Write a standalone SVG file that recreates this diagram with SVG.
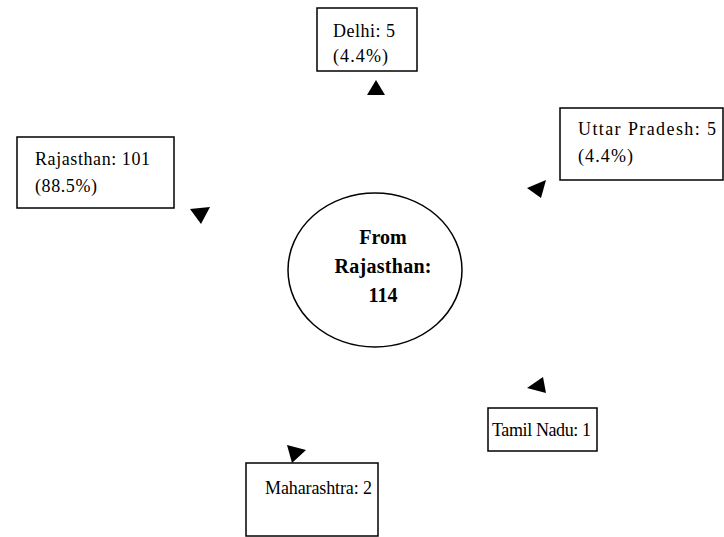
<svg xmlns="http://www.w3.org/2000/svg" width="724" height="537" viewBox="0 0 724 537">
<style>
.box{fill:#fff;stroke:#000;stroke-width:1.5}
.t{font-family:"Liberation Serif","Times New Roman",serif;font-size:18px;fill:#000}
.b{font-family:"Liberation Serif","Times New Roman",serif;font-size:20px;font-weight:bold;fill:#000;text-anchor:middle}
.ah{fill:#000;stroke:none}
</style>
<rect width="724" height="537" fill="#fff"/>
<g id="center">
<ellipse class="box" cx="375" cy="270" rx="87" ry="77"/>
<text class="b" x="383" y="244">From</text>
<text class="b" x="383" y="273" textLength="97" lengthAdjust="spacing">Rajasthan:</text>
<text class="b" x="383" y="302">114</text>
</g>
<g id="delhi">
<rect class="box" x="317" y="8" width="100" height="63"/>
<text class="t" x="333" y="37" textLength="62" lengthAdjust="spacing">Delhi: 5</text>
<text class="t" x="333" y="62" textLength="55" lengthAdjust="spacing">(4.4%)</text>
</g>
<g id="rajasthan">
<rect class="box" x="17" y="137" width="157" height="71"/>
<text class="t" x="35" y="165" textLength="115" lengthAdjust="spacing">Rajasthan: 101</text>
<text class="t" x="35" y="192" textLength="62" lengthAdjust="spacing">(88.5%)</text>
</g>
<g id="uttar-pradesh">
<rect class="box" x="560" y="108" width="163" height="72"/>
<text class="t" x="578" y="135" textLength="138" lengthAdjust="spacing">Uttar Pradesh: 5</text>
<text class="t" x="578" y="162" textLength="55" lengthAdjust="spacing">(4.4%)</text>
</g>
<g id="tamil-nadu">
<rect class="box" x="488" y="408" width="109" height="43"/>
<text class="t" x="492" y="436" textLength="99" lengthAdjust="spacing">Tamil Nadu: 1</text>
</g>
<g id="maharashtra">
<rect class="box" x="246" y="463" width="132" height="73"/>
<text class="t" x="265" y="494" textLength="107" lengthAdjust="spacing">Maharashtra: 2</text>
</g>
<g id="connectors">
<polygon class="ah" points="376,80 367,95 385,95"/>
<polygon class="ah" points="190,209 210,207 201,224"/>
<polygon class="ah" points="527,188 546,180 541,198"/>
<polygon class="ah" points="527,388 543,377 546,393"/>
<polygon class="ah" points="287,445 306,450 292,463"/>
</g>
</svg>
